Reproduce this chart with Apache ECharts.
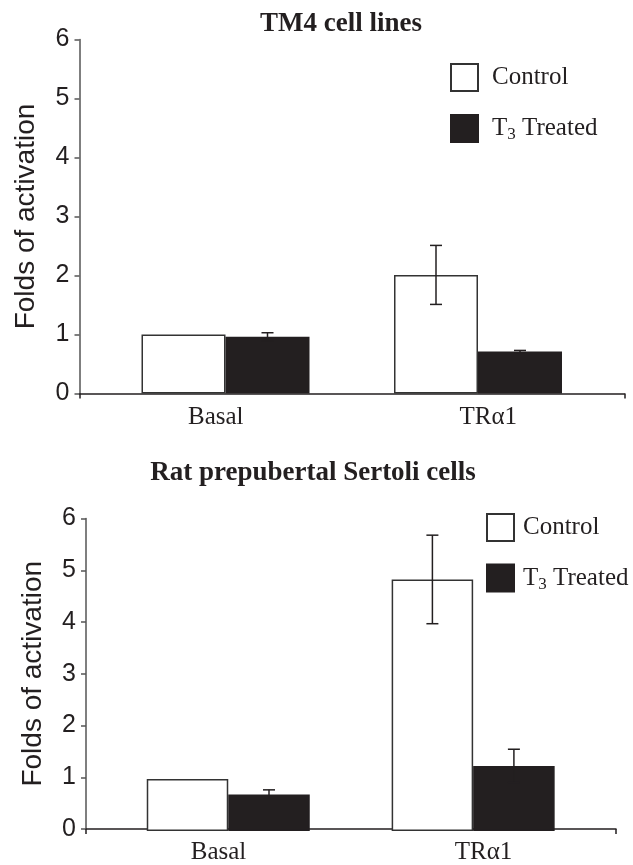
<!DOCTYPE html>
<html>
<head>
<meta charset="utf-8">
<script src="https://cdn.jsdelivr.net/npm/echarts@6/dist/echarts.min.js"></script>
<style>
html,body{margin:0;padding:0;background:#fff;}
#c{width:633px;height:865px;}
</style>
</head>
<body>
<div id="c"></div>
<script>
// ---- data ----
const categories = ['Basal', 'TRα1'];
const seriesNames = ['Control', 'T3 Treated'];
const yTicks = [0, 1, 2, 3, 4, 5, 6];
const titles = ['TM4 cell lines', 'Rat prepubertal Sertoli cells'];
const yName = 'Folds of activation';

const tm4Control = [1.0, 2.01];
const tm4ControlErr = [0, 0.5];
const tm4Treated = [0.96, 0.71];
const tm4TreatedErr = [0.07, 0.02];

const ratControl = [1.0, 4.83];
const ratControlErr = [0, 0.85];
const ratTreated = [0.70, 1.25];
const ratTreatedErr = [0.09, 0.32];

// ---- styles ----
const INK = '#231f20';
const SERIF = "'Liberation Serif','Times New Roman',serif";
const SANS = "'Liberation Sans',Arial,sans-serif";

const panels = [
  { full: {left: 79.5, right: 8.5, top: 39.5, bottom: 471.5},
    bars: {left: 99.25, right: 28.75, top: 39.5, bottom: 471.5},
    barW: 84, control: tm4Control, controlErr: tm4ControlErr,
    treated: tm4Treated, treatedErr: tm4TreatedErr,
    title: {left: 336, top: 6}, legend: {left: 445, top: 58, gap: 22}, textGap: 9 },
  { full: {left: 86, right: 17, top: 518.5, bottom: 34},
    bars: {left: 105.8, right: 37.4, top: 518.5, bottom: 34},
    barW: 81.5, control: ratControl, controlErr: ratControlErr,
    treated: ratTreated, treatedErr: ratTreatedErr,
    title: {left: 308, top: 455}, legend: {left: 481, top: 508, gap: 21.5}, textGap: 4 }
];

const grid = [], xAxis = [], yAxis = [], series = [], title = [], legend = [];
const yMin = yTicks[0], yMax = yTicks[yTicks.length - 1];

function errRender(offsetSign, barW) {
  return function (params, api) {
    const v = api.value(1), e = api.value(2);
    if (!e) return null;
    const top = api.coord([api.value(0), v + e]);
    const bot = api.coord([api.value(0), v - e]);
    const x = top[0] + offsetSign * barW / 2;
    const cap = 6;
    const st = {stroke: INK, lineWidth: 1.5};
    return {
      type: 'group',
      children: [
        {type: 'line', shape: {x1: x, y1: top[1], x2: x, y2: bot[1]}, style: st},
        {type: 'line', shape: {x1: x - cap, y1: top[1], x2: x + cap, y2: top[1]}, style: st},
        {type: 'line', shape: {x1: x - cap, y1: bot[1], x2: x + cap, y2: bot[1]}, style: st}
      ]
    };
  };
}

panels.forEach((p, k) => {
  const gFull = grid.length;
  grid.push(p.full);
  const gBars = grid.length;
  grid.push(p.bars);

  // full-width axes (labels, line, ticks)
  xAxis.push({
    type: 'category', gridIndex: gFull, data: categories, position: 'bottom',
    axisLine: {show: false}, axisTick: {show: false},
    axisLabel: {fontFamily: SERIF, fontSize: 25, color: INK, margin: 11}
  });
  xAxis.push({
    type: 'category', gridIndex: gFull, data: [''], position: 'bottom',
    axisLine: {show: true, lineStyle: {color: INK, width: 1.5}},
    axisTick: {show: true, length: 5, lineStyle: {color: INK, width: 1.5}},
    axisLabel: {show: false}
  });
  yAxis.push({
    type: 'value', gridIndex: gFull, min: yMin, max: yMax, interval: 1,
    name: yName, nameLocation: 'middle', nameGap: 39,
    nameTextStyle: {fontFamily: SANS, fontSize: 28, color: INK},
    axisLine: {show: true, lineStyle: {color: '#555', width: 1.5}},
    axisTick: {show: true, length: 5, lineStyle: {color: '#555', width: 1.5}},
    axisLabel: {fontFamily: SANS, fontSize: 25, color: INK, margin: 10},
    splitLine: {show: false}
  });

  // bar axes
  const xBars = xAxis.length;
  xAxis.push({type: 'category', gridIndex: gBars, data: categories, show: false});
  const yBars = yAxis.length;
  yAxis.push({type: 'value', gridIndex: gBars, min: yMin, max: yMax, show: false});

  series.push({
    name: seriesNames[0], type: 'bar', xAxisIndex: xBars, yAxisIndex: yBars,
    data: p.control, barWidth: p.barW, barGap: '0%',
    itemStyle: {color: '#ffffff', borderColor: '#333', borderWidth: 1.5},
    emphasis: {disabled: true}
  });
  series.push({
    name: seriesNames[1], type: 'bar', xAxisIndex: xBars, yAxisIndex: yBars,
    data: p.treated, barWidth: p.barW, barGap: '0%',
    itemStyle: {color: INK, borderColor: INK, borderWidth: 1.5},
    emphasis: {disabled: true}
  });
  series.push({
    type: 'custom', xAxisIndex: xBars, yAxisIndex: yBars, z: 5,
    data: categories.map((c, i) => [i, p.control[i], p.controlErr[i]]),
    renderItem: errRender(-1, p.barW)
  });
  series.push({
    type: 'custom', xAxisIndex: xBars, yAxisIndex: yBars, z: 5,
    data: categories.map((c, i) => [i, p.treated[i], p.treatedErr[i]]),
    renderItem: errRender(1, p.barW)
  });

  title.push({
    text: titles[k], left: p.title.left, top: p.title.top, textAlign: 'center',
    textStyle: {fontFamily: SERIF, fontWeight: 'bold', fontSize: 27, color: INK}
  });

  legend.push({
    orient: 'vertical', left: p.legend.left, top: p.legend.top,
    itemWidth: 27, itemHeight: 27, itemGap: p.legend.gap, icon: 'rect',
    data: seriesNames, selectedMode: false,
    formatter: function (name) {
      if (name === seriesNames[1]) return '{g| }{n|T}{s|3}{n| Treated}';
      return '{g| }{n|' + name + '}';
    },
    textStyle: {
      rich: {
        g: {width: p.textGap, fontSize: 10, lineHeight: 30},
        n: {fontFamily: SERIF, fontSize: 25, color: INK, lineHeight: 30},
        s: {fontFamily: SERIF, fontSize: 17, color: INK, lineHeight: 17, verticalAlign: 'bottom'}
      }
    }
  });
});

const chart = echarts.init(document.getElementById('c'), null, {renderer: 'canvas'});
chart.setOption({
  animation: false,
  backgroundColor: '#ffffff',
  title, legend, grid, xAxis, yAxis, series
});
</script>
</body>
</html>
